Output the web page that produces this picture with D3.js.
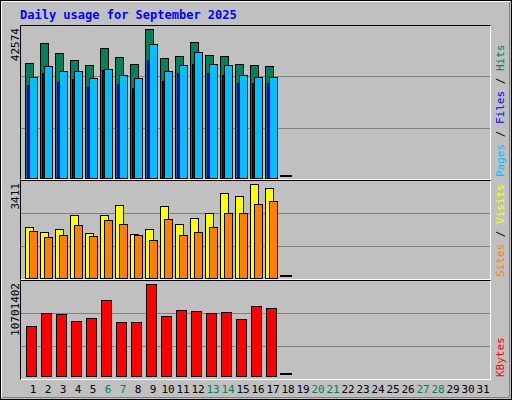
<!DOCTYPE html>
<html><head><meta charset="utf-8">
<script src="https://cdn.jsdelivr.net/npm/d3@7"></script>
<style>body{margin:0;background:#fff}svg{display:block}text{font-family:"DejaVu Sans Mono",monospace}</style>
</head><body>
<script>
var days = d3.range(1, 32);
var weekends = [6, 7, 13, 14, 20, 21, 27, 28];
var hits  = [32770,38480,35630,33630,32200,37060,34490,32490,42574,34200,34770,38770,35060,34770,32490,32200,31910];
var files = [26480,29910,27340,28200,25910,30770,26770,25630,33630,27630,29910,32490,29910,29340,27060,27060,27060];
var pages = [28770,31910,30480,30480,28480,31060,29340,28480,38200,30480,32200,35910,32490,32200,29340,28770,28770];
var visits = [1845,1663,1772,2282,1627,2282,2646,1590,1772,2609,1954,2173,2355,3083,2974,3411,3265];
var sites  = [1700,1481,1554,1918,1518,2100,1954,1554,1372,2137,1554,1663,1845,2355,2355,2683,2792];
var kbytes = [5800000,7320000,7200000,6380000,6730000,8830000,6270000,6270000,10701402,6970000,7670000,7550000,7320000,7430000,6620000,8130000,7900000];
var zeroDay = 18;

var W = 512, H = 400;
var svg = d3.select('body').append('svg').attr('width', W).attr('height', H);
svg.append('rect').attr('width', W).attr('height', H).attr('fill', '#c0c0c0');
svg.append('path').attr('d', 'M1.5,398V1.5H510').attr('stroke', '#fff').attr('fill', 'none');
svg.append('path').attr('d', 'M2,397.5H509.5V2').attr('stroke', '#808080').attr('fill', 'none');
svg.append('rect').attr('x', 0.5).attr('y', 0.5).attr('width', W - 1).attr('height', H - 1)
  .attr('fill', 'none').attr('stroke', '#000');

svg.append('text').attr('x', 20).attr('y', 19).attr('fill', '#0000ff')
  .attr('font-size', 12).attr('font-weight', 'bold').text('Daily usage for September 2025');

var x = d3.scaleLinear().domain([1, 32]).range([25, 490]);

function panel(top, bottom, base, maxTop, max, label, series, rlabel) {
  var g = svg.append('g');
  g.append('path').attr('d', 'M20.5,' + (bottom + 0.5) + 'V' + (top + 0.5) + 'H490.5')
    .attr('stroke', '#000').attr('fill', 'none');
  g.append('path').attr('d', 'M21,' + (bottom + 0.5) + 'H490.5V' + (top + 1))
    .attr('stroke', '#fff').attr('fill', 'none');
  var third = (bottom - top) / 3;
  [1, 2].forEach(function (k) {
    var yy = Math.round(top + third * k) + 0.5;
    g.append('line').attr('x1', 21).attr('x2', 490).attr('y1', yy).attr('y2', yy).attr('stroke', '#808080');
  });
  var y = d3.scaleLinear().domain([0, max]).range([base, maxTop]);
  series.forEach(function (s) {
    g.selectAll(null).data(s.values).enter().append('rect')
      .attr('x', function (d, i) { return x(i + 1) + s.dx + 0.5; })
      .attr('y', function (d) { return Math.round(y(d)) + 0.5; })
      .attr('width', s.w)
      .attr('height', function (d) { return base - Math.round(y(d)); })
      .attr('fill', s.color).attr('stroke', '#000');
  });
  g.append('line').attr('x1', x(zeroDay)).attr('x2', x(zeroDay) + 12)
    .attr('y1', base - 2).attr('y2', base - 2).attr('stroke', '#000').attr('stroke-width', 2);
  g.append('text').attr('transform', 'translate(19,' + (top + 3) + ') rotate(-90)')
    .attr('text-anchor', 'end').attr('font-size', 11).attr('fill', '#000').text(label);
  var t = g.append('text').attr('transform', 'translate(504,' + (bottom - 2) + ') rotate(-90)')
    .attr('font-size', 11);
  rlabel.forEach(function (p, i) {
    if (i) t.append('tspan').attr('fill', '#000').text(' / ');
    t.append('tspan').attr('fill', p[1]).text(p[0]);
  });
}

panel(25, 179, 178, 29, 42574, '42574', [
  { values: hits, color: '#00805c', dx: 0, w: 8 },
  { values: files, color: '#0000ff', dx: 2, w: 6 },
  { values: pages, color: '#00c0ff', dx: 4, w: 8 }
], [['Pages', '#00c0ff'], ['Files', '#0000ff'], ['Hits', '#00805c']]);

panel(180, 279, 278, 184, 3411, '3411', [
  { values: visits, color: '#ffff00', dx: 0, w: 8 },
  { values: sites, color: '#ff8000', dx: 4, w: 8 }
], [['Sites', '#ff8000'], ['Visits', '#ffff00']]);

panel(280, 379, 376, 284, 10701402, '10701402', [
  { values: kbytes, color: '#ff0000', dx: 1, w: 10 }
], [['KBytes', '#ff0000']]);

svg.selectAll('text.day').data(days).enter().append('text').attr('class', 'day')
  .attr('x', function (d) { return x(d) + 8; }).attr('y', 393)
  .attr('text-anchor', 'middle').attr('font-size', 11)
  .attr('fill', function (d) { return weekends.indexOf(d) >= 0 ? '#00805c' : '#000'; })
  .text(function (d) { return d; });
</script>
</body></html>
